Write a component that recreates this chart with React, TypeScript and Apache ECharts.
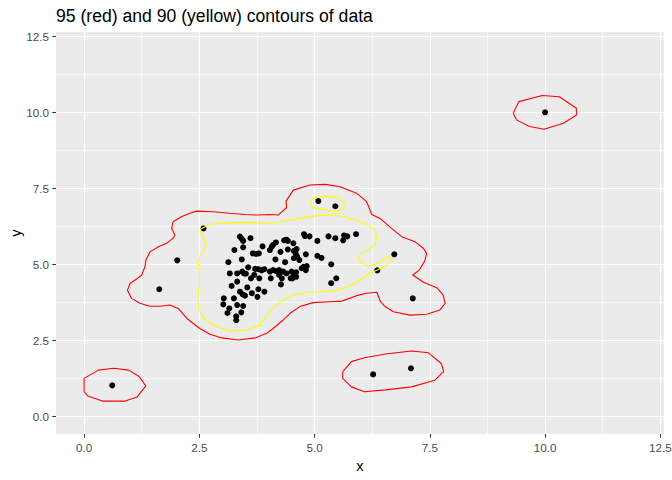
import React, { useEffect, useRef } from 'react';
import * as echarts from 'echarts';

type Pt = [number, number];

const TITLE = '95 (red) and 90 (yellow) contours of data';
const MAJOR_BREAKS = [0, 2.5, 5, 7.5, 10, 12.5];
const MINOR_BREAKS = [1.25, 3.75, 6.25, 8.75, 11.25];
const X_LIMITS = [-0.61, 12.58];
const Y_LIMITS = [-0.58, 12.64];

const points: Pt[] = [
  [0.61, 1.02], [1.63, 4.18], [2.02, 5.13], [2.59, 6.18], [6.27, 1.38], [7.09, 1.58],
  [7.13, 3.88], [6.36, 4.8], [6.73, 5.33], [10.0, 10.0], [5.08, 7.08], [5.45, 6.91],
  [3.38, 5.91], [3.42, 5.84], [3.45, 5.77], [3.61, 5.86], [3.26, 5.47], [3.45, 5.56],
  [3.66, 5.36], [3.73, 5.34], [3.79, 5.36], [3.87, 5.59], [4.03, 5.47], [4.07, 5.58],
  [4.1, 5.64], [4.16, 5.72], [4.34, 5.79], [4.39, 5.81], [4.42, 5.77], [4.54, 5.69],
  [4.26, 5.41], [4.42, 5.49], [4.55, 5.44], [4.61, 5.5], [4.59, 5.35], [4.62, 5.25],
  [4.55, 5.2], [4.67, 5.14], [4.81, 5.33], [4.77, 5.99], [4.79, 5.93], [4.89, 5.92],
  [5.06, 5.77], [5.06, 5.28], [4.36, 5.07], [4.15, 5.16], [3.42, 5.16], [3.13, 5.07],
  [3.56, 4.9], [3.16, 4.7], [3.32, 4.7], [3.43, 4.76], [3.47, 4.7], [3.51, 4.69],
  [3.71, 4.85], [3.78, 4.84], [3.85, 4.8], [3.91, 4.84], [4.03, 4.76], [4.1, 4.81],
  [4.16, 4.78], [4.23, 4.81], [4.32, 4.76], [4.39, 4.7], [4.23, 4.65], [4.29, 4.54],
  [4.27, 4.34], [4.5, 4.76], [4.55, 4.67], [4.6, 4.74], [4.6, 4.59], [4.52, 4.54],
  [4.48, 4.54], [4.72, 4.87], [4.76, 4.92], [4.83, 4.94], [4.81, 4.81], [4.05, 4.54],
  [3.69, 4.65], [3.62, 4.54], [3.8, 4.54], [3.32, 4.43], [3.2, 4.29], [3.54, 4.24],
  [3.78, 4.18], [3.38, 4.1], [3.44, 4.01], [3.49, 3.97], [3.64, 4.05], [3.76, 3.93],
  [3.91, 4.1], [3.03, 3.88], [3.25, 3.88], [3.02, 3.68], [3.32, 3.66], [3.45, 3.63],
  [3.15, 3.55], [3.41, 3.42], [3.11, 3.4], [3.3, 3.29], [3.3, 3.16],
  [5.3, 5.92], [5.45, 5.86], [5.64, 5.95], [5.71, 5.92], [5.62, 5.79], [5.9, 5.99],
  [5.15, 5.21], [5.36, 5.0], [5.47, 4.54], [5.36, 4.38],
];

// 95% contour (red)
const redMain: Pt[] = [
  [2.44, 6.75], [2.8, 6.73], [3.16, 6.68], [3.49, 6.64], [3.74, 6.62], [4.03, 6.64],
  [4.21, 6.62], [4.39, 6.86], [4.38, 7.08], [4.54, 7.44], [4.9, 7.61], [5.23, 7.63],
  [5.55, 7.55], [5.91, 7.34], [6.13, 7.06], [6.24, 6.64], [6.42, 6.51], [6.67, 6.18],
  [6.89, 5.91], [7.18, 5.74], [7.36, 5.53], [7.43, 5.36], [7.39, 5.11], [7.27, 4.81],
  [7.13, 4.65], [7.36, 4.41], [7.65, 4.23], [7.79, 3.99], [7.83, 3.72], [7.72, 3.5],
  [7.43, 3.36], [7.07, 3.33], [6.71, 3.44], [6.53, 3.61], [6.43, 3.77], [6.35, 4.08],
  [6.13, 4.05], [5.91, 3.97], [5.59, 3.79], [5.33, 3.77], [4.97, 3.74], [4.68, 3.61],
  [4.47, 3.39], [4.32, 3.17], [4.1, 2.89], [3.96, 2.73], [3.71, 2.58], [3.34, 2.51],
  [2.99, 2.58], [2.73, 2.7], [2.51, 2.89], [2.23, 3.22], [2.04, 3.55], [1.86, 3.66],
  [1.65, 3.62], [1.43, 3.62], [1.21, 3.72], [1.03, 3.88], [0.94, 4.15], [1.0, 4.38],
  [1.14, 4.52], [1.25, 4.65], [1.32, 4.92], [1.34, 5.14], [1.43, 5.41], [1.61, 5.58],
  [1.79, 5.69], [1.93, 5.86], [1.97, 5.96], [1.9, 6.18], [1.93, 6.4], [2.12, 6.57],
  [2.3, 6.68],
];
const redTopRight: Pt[] = [
  [9.31, 9.97], [9.43, 10.35], [9.94, 10.55], [10.31, 10.51], [10.68, 10.13],
  [10.68, 9.91], [10.4, 9.64], [9.98, 9.44], [9.66, 9.53], [9.38, 9.75],
];
const redBottomLeft: Pt[] = [
  [0.0, 1.25], [0.31, 1.52], [0.64, 1.58], [0.97, 1.52], [1.2, 1.3], [1.34, 1.0],
  [1.15, 0.64], [0.87, 0.5], [0.41, 0.5], [0.08, 0.67], [0.0, 0.81],
];
const redBottomMid: Pt[] = [
  [5.61, 1.47], [5.8, 1.8], [6.08, 1.93], [6.54, 2.05], [7.1, 2.15], [7.47, 2.09],
  [7.75, 1.74], [7.8, 1.47], [7.61, 1.19], [7.1, 0.97], [6.54, 0.87], [6.08, 0.81],
  [5.8, 0.97], [5.61, 1.25],
];

// 90% contour (yellow)
const yellowMain: Pt[] = [
  [2.55, 6.18], [2.73, 6.32], [3.16, 6.37], [3.6, 6.38], [4.03, 6.35], [4.25, 6.4],
  [4.68, 6.51], [5.05, 6.6], [5.41, 6.62], [5.62, 6.57], [5.91, 6.46], [6.16, 6.29],
  [6.31, 6.13], [6.35, 5.86], [6.31, 5.64], [6.16, 5.47], [5.98, 5.31], [5.95, 5.14],
  [6.09, 4.98], [6.24, 4.95], [6.46, 5.11], [6.6, 5.28], [6.69, 5.14], [6.56, 4.98],
  [6.36, 4.81], [6.13, 4.65], [5.95, 4.43], [5.73, 4.26], [5.48, 4.15], [5.15, 4.1],
  [4.83, 4.08], [4.54, 3.99], [4.32, 3.83], [4.1, 3.55], [3.96, 3.33], [3.82, 3.0],
  [3.53, 2.84], [3.16, 2.81], [2.88, 2.95], [2.59, 3.22], [2.48, 3.55], [2.46, 3.88],
  [2.5, 4.32], [2.51, 4.65], [2.48, 4.98], [2.51, 5.25], [2.62, 5.53], [2.66, 5.64],
  [2.59, 5.86], [2.51, 6.13],
];
const yellowTop: Pt[] = [
  [4.9, 7.11], [5.01, 7.19], [5.26, 7.25], [5.55, 7.17], [5.66, 6.96], [5.61, 6.82],
  [5.44, 6.73], [5.26, 6.79], [5.05, 6.84], [4.94, 6.89],
];

const redContours = [redMain, redTopRight, redBottomLeft, redBottomMid];
const yellowContours = [yellowMain, yellowTop];

const FONT = '"Liberation Sans", Arial, sans-serif';

const closed = (ring: Pt[]): Pt[] => [...ring, ring[0]];

const contourSeries = (rings: Pt[][], color: string, z: number) =>
  rings.map((ring) => ({
    type: 'line',
    data: closed(ring),
    showSymbol: false,
    symbol: 'none',
    smooth: false,
    silent: true,
    z,
    lineStyle: { color, width: 1.1 },
  }));

function axisCommon() {
  return {
    type: 'value',
    axisLine: { show: false, onZero: false },
    splitLine: { show: false },
    axisTick: {
      show: true,
      customValues: MAJOR_BREAKS,
      length: 3.7,
      lineStyle: { color: '#333333', width: 1.07 },
    },
    axisLabel: {
      customValues: MAJOR_BREAKS,
      formatter: (v: number) => v.toFixed(1),
      color: '#4D4D4D',
      fontSize: 11.7,
      fontFamily: FONT,
      margin: 7,
    },
    nameLocation: 'middle',
    nameMoveOverlap: false,
    nameTextStyle: { color: '#000000', fontSize: 14.7, fontFamily: FONT },
  };
}

export default function App() {
  const ref = useRef<HTMLDivElement | null>(null);

  useEffect(() => {
    if (!ref.current) return;
    const chart = echarts.init(ref.current, undefined, { renderer: 'svg' });
    const gridLines = [
      ...MINOR_BREAKS.map((v) => ({ xAxis: v, lineStyle: { width: 0.6 } })),
      ...MINOR_BREAKS.map((v) => ({ yAxis: v, lineStyle: { width: 0.6 } })),
      ...MAJOR_BREAKS.map((v) => ({ xAxis: v, lineStyle: { width: 1.2 } })),
      ...MAJOR_BREAKS.map((v) => ({ yAxis: v, lineStyle: { width: 1.2 } })),
    ];
    chart.setOption({
      animation: false,
      backgroundColor: '#FFFFFF',
      title: {
        text: TITLE,
        left: 56,
        top: 7,
        padding: 0,
        textStyle: { color: '#000000', fontSize: 17.6, fontWeight: 'normal', fontFamily: FONT },
      },
      grid: {
        left: 56,
        top: 32,
        width: 608,
        height: 402,
        show: true,
        backgroundColor: '#EBEBEB',
        borderWidth: 0,
        containLabel: false,
        outerBoundsMode: 'none',
      },
      xAxis: { ...axisCommon(), min: X_LIMITS[0], max: X_LIMITS[1], name: 'x', nameGap: 24 },
      yAxis: { ...axisCommon(), min: Y_LIMITS[0], max: Y_LIMITS[1], name: 'y', nameGap: 33 },
      series: [
        {
          type: 'line',
          data: [],
          silent: true,
          z: 1,
          markLine: {
            silent: true,
            z: 1,
            symbol: 'none',
            label: { show: false },
            lineStyle: { color: '#FFFFFF', type: 'solid' },
            emphasis: { disabled: true },
            data: gridLines,
          },
        },
        {
          type: 'scatter',
          data: points,
          symbol: 'circle',
          symbolSize: 6,
          silent: true,
          z: 2,
          itemStyle: { color: '#000000', opacity: 1 },
        },
        ...contourSeries(redContours, '#FF0000', 3),
        ...contourSeries(yellowContours, '#FFFF00', 4),
      ],
    });
    return () => chart.dispose();
  }, []);

  return (
    <div
      ref={ref}
      style={{ position: 'fixed', left: 0, top: 0, width: 672, height: 480, background: '#FFFFFF' }}
    />
  );
}
